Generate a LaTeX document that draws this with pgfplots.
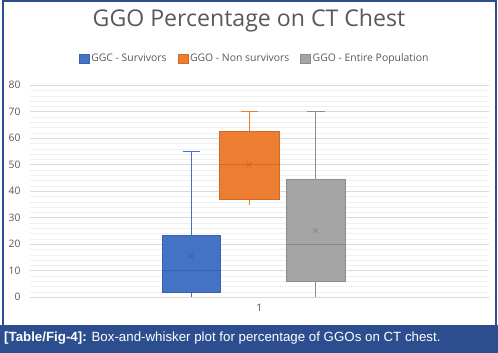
\documentclass[border=0pt]{standalone}
\usepackage{pgfplots}
\pgfplotsset{compat=1.18}
\usepackage{fontspec}
\setmainfont{Open Sans}
\newfontfamily\arial{Liberation Sans}
\definecolor{blueS}{HTML}{4472C4}
\definecolor{blueD}{HTML}{3A62AA}
\definecolor{orangeS}{HTML}{ED7D31}
\definecolor{orangeD}{HTML}{D06A26}
\definecolor{grayS}{HTML}{A5A5A5}
\definecolor{grayD}{HTML}{8C8C8C}
\definecolor{frame}{HTML}{2D4E8E}
\definecolor{txt}{HTML}{595959}
\begin{document}
\begin{tikzpicture}
\path[use as bounding box] (0bp,0bp) rectangle (498bp,353bp);
\fill[white] (0bp,0bp) rectangle (498bp,353bp);
\draw[frame, line width=2bp] (2.5bp,27bp) rectangle (495.5bp,351.5bp);
\fill[frame] (0bp,0bp) rectangle (498bp,28bp);
\node[anchor=west, text=white, font=\arial\fontsize{13.3bp}{15bp}\selectfont, inner sep=0] at (4bp,14.5bp) {\textbf{[Table/Fig-4]:} Box-and-whisker plot for percentage of GGOs on CT chest.};
\node[text=txt, font=\fontsize{23.1bp}{27bp}\selectfont, inner sep=0] at (249bp,332bp) {GGO Percentage on CT Chest};
\begin{axis}[
  at={(29.5bp,55.7bp)}, anchor=south west,
  scale only axis, width=459.5bp, height=212bp,
  xmin=29.5, xmax=489, ymin=0, ymax=80,
  ytick={0,10,...,80},
  minor y tick num=4,
  xtick={259.25}, xticklabels={1},
  ymajorgrids, yminorgrids,
  major grid style={draw=black!15, line width=0.8bp},
  minor grid style={draw=black!6, line width=0.5bp},
  axis line style={draw=none},
  major tick length=0, minor tick length=0,
  tick label style={text=txt, font=\fontsize{10.3bp}{12bp}\selectfont},
  /pgf/number format/assume math mode=true,
  yticklabel style={xshift=-5.5bp},
  xticklabel style={yshift=-3bp},
  legend columns=3,
  legend style={draw=none, fill=none, at={(0.490,1.126)}, anchor=center,
    font=\fontsize{10.4bp}{12bp}\selectfont, text=txt,
    /tikz/every even column/.append style={column sep=9bp}},
  legend image code/.code={\draw[#1] (0bp,-4.5bp) rectangle (10bp,4.5bp);},
]
% Survivors: min 0, Q1 1.7, median 10, Q3 23.5, max 55, mean 15.7
\addplot[forget plot, draw=blueS, line width=1bp] coordinates {(191,0) (191,55)};
\addplot[forget plot, draw=blueS, line width=1bp] coordinates {(182.5,55) (199.5,55)};
\addplot[forget plot, fill=blueS, draw=blueD, line width=0.8bp] coordinates {(162,1.7) (220,1.7) (220,23.5) (162,23.5)} -- cycle;
\addplot[forget plot, draw=blueD, line width=0.8bp] coordinates {(162,10) (220,10)};
% Non survivors: min 35, Q1 36.9, median 50, Q3 62.7, max 70, mean 50
\addplot[forget plot, draw=orangeS, line width=1bp] coordinates {(249,35) (249,70)};
\addplot[forget plot, draw=orangeS, line width=1bp] coordinates {(240.5,70) (257.5,70)};
\addplot[forget plot, fill=orangeS, draw=orangeD, line width=0.8bp] coordinates {(219,36.9) (279,36.9) (279,62.7) (219,62.7)} -- cycle;
\addplot[forget plot, draw=orangeD, line width=0.8bp] coordinates {(219,50) (279,50)};
% Entire population: min 0, Q1 6, median 20, Q3 44.6, max 70, mean 25.2
\addplot[forget plot, draw=grayD, line width=1bp] coordinates {(315.5,0) (315.5,70)};
\addplot[forget plot, draw=grayD, line width=1bp] coordinates {(306.5,70) (324.5,70)};
\addplot[forget plot, fill=grayS, draw=grayD, line width=0.8bp] coordinates {(286,6) (345,6) (345,44.6) (286,44.6)} -- cycle;
\addplot[forget plot, draw=grayD, line width=0.8bp] coordinates {(286,20) (345,20)};
% means
\addplot[forget plot, only marks, mark=x, mark size=3.5bp, mark options={draw=blueD, line width=0.9bp}] coordinates {(191,15.7)};
\addplot[forget plot, only marks, mark=x, mark size=3.5bp, mark options={draw=orangeD, line width=0.9bp}] coordinates {(249,50)};
\addplot[forget plot, only marks, mark=x, mark size=3.5bp, mark options={draw=grayD, line width=0.9bp}] coordinates {(315.5,25.2)};
\addlegendimage{fill=blueS, draw=blueD}
\addlegendentry{GGC - Survivors}
\addlegendimage{fill=orangeS, draw=orangeD}
\addlegendentry{GGO - Non survivors}
\addlegendimage{fill=grayS, draw=grayD}
\addlegendentry{GGO - Entire Population}
\end{axis}
\end{tikzpicture}
\end{document}
